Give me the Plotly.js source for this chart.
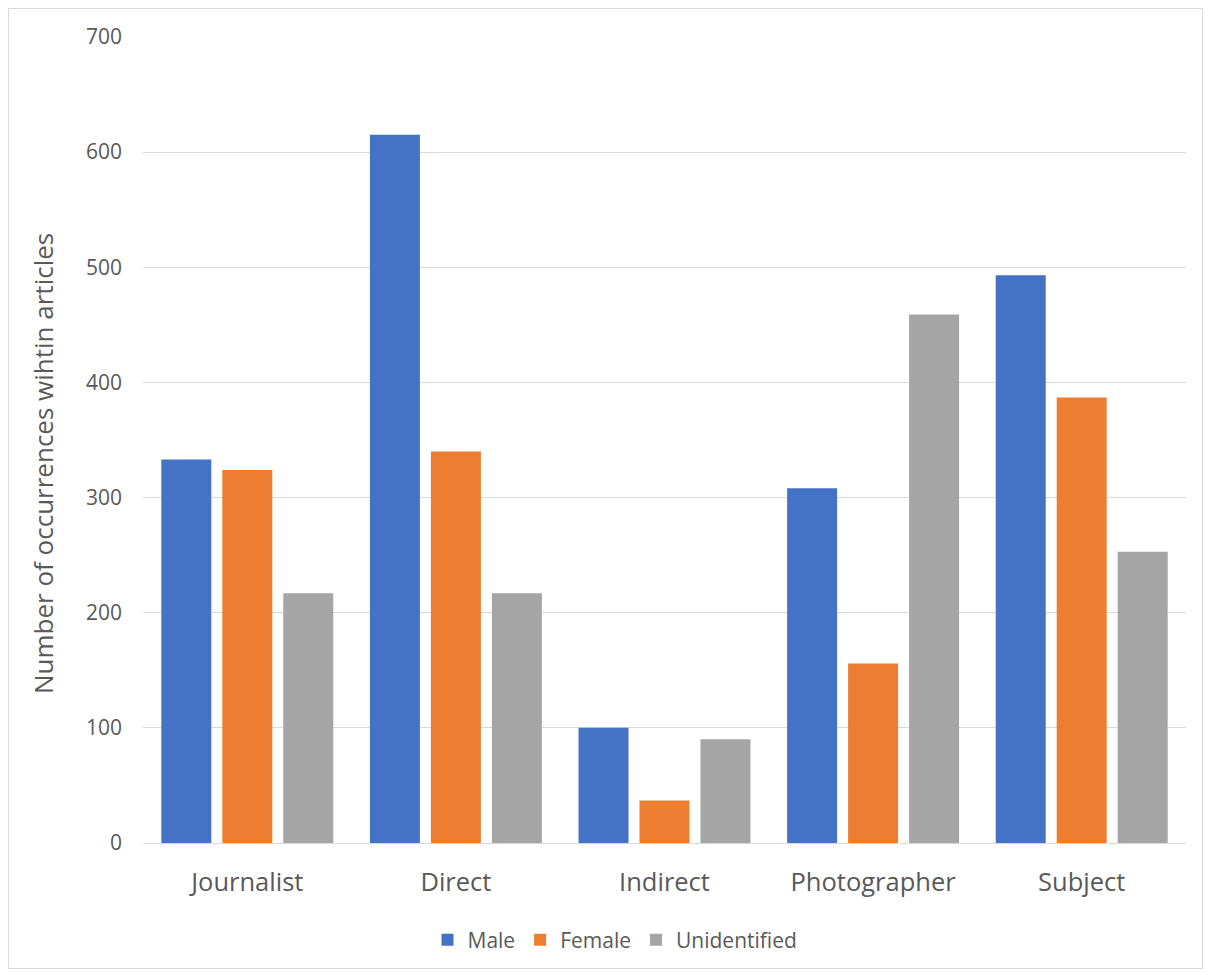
<!DOCTYPE html>
<html>
<head>
<meta charset="utf-8">
<script src="https://cdn.plot.ly/plotly-3.0.1.min.js"></script>
<style>
  html, body { margin: 0; padding: 0; background: #fff; }
  #wrap { position: relative; width: 1209px; height: 975px; }
  #chart { width: 1209px; height: 975px; }
  #frame { position: absolute; left: 8px; top: 8px; width: 1193px; height: 959px; border: 1px solid #d9d9d9; pointer-events: none; }
</style>
</head>
<body>
<div id="wrap"><div id="chart"></div><div id="frame"></div></div>
<script>
const categories = ["Journalist", "Direct", "Indirect", "Photographer", "Subject"];
const maleValues = [333, 615, 100, 308, 493];
const femaleValues = [324, 340, 37, 156, 387];
const unidentifiedValues = [217, 217, 90, 459, 253];
const yTickValues = [0, 100, 200, 300, 400, 500, 600, 700];
const yTitle = "Number of occurrences wihtin articles";

const font = "Open Sans, Liberation Sans, sans-serif";
const textColor = "#595959";

const traces = [
  { type: "bar", name: "Male", x: categories, y: maleValues, marker: { color: "#4472C4" } },
  { type: "bar", name: "Female", x: categories, y: femaleValues, marker: { color: "#ED7D31" } },
  { type: "bar", name: "Unidentified", x: categories, y: unidentifiedValues, marker: { color: "#A5A5A5" } }
];

const layout = {
  width: 1209, height: 975,
  margin: { l: 143, r: 23, t: 37, b: 132 },
  paper_bgcolor: "#fff", plot_bgcolor: "#fff",
  barmode: "group", bargap: 0.123, bargroupgap: 0.18,
  font: { family: font, color: textColor, size: 20 },
  xaxis: {
    type: "category",
    showgrid: false, zeroline: false,
    showline: true, linecolor: "#d9d9d9", linewidth: 1,
    ticks: "", tickfont: { size: 25.5, color: textColor },
    ticklabelstandoff: 16
  },
  yaxis: {
    range: [0, 700], tickvals: yTickValues,
    showgrid: true, gridcolor: "#d9d9d9", gridwidth: 1,
    zeroline: false, showline: false, ticks: "",
    tickfont: { size: 21, color: textColor },
    ticklabelstandoff: 20
  },
  annotations: [{
    text: yTitle, textangle: -90,
    xref: "paper", yref: "paper",
    x: (43 - 143) / 1043, y: (843 - 464) / 806,
    xanchor: "center", yanchor: "middle", showarrow: false,
    font: { size: 26, color: textColor }
  }],
  showlegend: true,
  legend: {
    orientation: "h", x: (615 - 143) / 1043, xanchor: "center", xref: "paper",
    y: -0.095, yanchor: "top",
    font: { size: 21, color: textColor },
    itemwidth: 30, traceorder: "normal"
  }
};

Plotly.newPlot("chart", traces, layout, { displayModeBar: false, staticPlot: true });
</script>
</body>
</html>
